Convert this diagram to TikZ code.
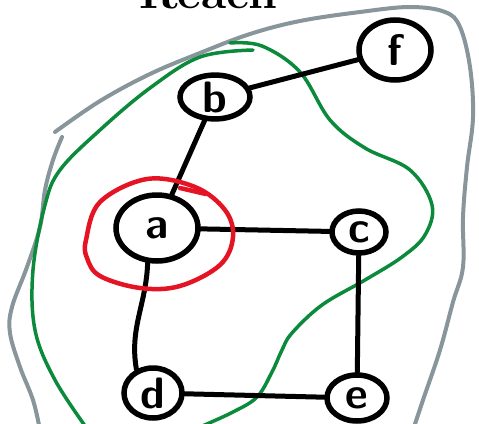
\documentclass[tikz,border=0pt]{standalone}
\usetikzlibrary{shapes.geometric}
\begin{document}
\begin{tikzpicture}[x=1pt,y=1pt,
  vertex/.style={ellipse, draw=black, line width=5.5pt, inner sep=0pt,
    font=\fontsize{44}{44}\selectfont\sffamily\bfseries},
  link/.style={draw=black, line width=5pt, line cap=round},
  outerblob/.style={color={rgb,255:red,136;green,149;blue,154}, line width=4pt, line cap=round, line join=round},
  greenblob/.style={color={rgb,255:red,10;green,138;blue,58}, line width=3.5pt, line cap=round, line join=round},
  redring/.style={color={rgb,255:red,228;green,20;blue,36}, line width=4.5pt, line cap=round, line join=round}]
\useasboundingbox (0,0) rectangle (479,-423);
\clip (0,0) rectangle (479,-423);

% heading, cut at the top edge
\node[anchor=base, font=\fontsize{46}{46}\selectfont\bfseries, inner sep=0pt] (title) at (208,-9) {Reach};

% outer grey region
\draw[outerblob] plot[smooth, tension=0.6] coordinates {
  (55,-132) (100,-101) (150,-74) (200,-53) (250,-34) (300,-21) (360,-12)
  (410,-7) (445,-12) (460,-27) (470,-67) (473,-117) (467,-167) (463,-217)
  (463,-267) (453,-302) (440,-350) (423,-400) (413,-430)};
\draw[outerblob] plot[smooth, tension=0.6] coordinates {
  (62,-137) (53,-160) (45,-190) (40,-227) (27,-267) (12,-307) (10,-333)
  (20,-367) (33,-400) (40,-430)};

% green region
\draw[greenblob] plot[smooth, tension=0.6] coordinates {
  (253,-50) (200,-57) (150,-88) (100,-130) (60,-170) (45,-205) (33,-270)
  (35,-330) (55,-380) (88,-430)};
\draw[greenblob] plot[smooth, tension=0.6] coordinates {
  (230,-43) (262,-46) (300,-72) (330,-120) (365,-148) (410,-170) (432,-205)
  (425,-235) (402,-257) (365,-280) (322,-305) (292,-333) (282,-350)
  (272,-372) (257,-397) (233,-412) (200,-427)};

% vertices
\node[vertex, minimum width=72pt, minimum height=60pt] (f) at (395,-50) {f};
\node[vertex, minimum width=70pt, minimum height=43pt] (b) at (215,-97) {b};
\node[vertex, minimum width=82pt, minimum height=66pt] (a) at (157,-228) {a};
\node[vertex, minimum width=54pt, minimum height=42pt] (c) at (359,-232) {c};
\node[vertex, minimum width=58pt, minimum height=50pt] (d) at (153,-393) {d};
\node[vertex, minimum width=60pt, minimum height=46pt] (e) at (357,-398) {e};

% edges
\draw[link] (b) -- (f);
\draw[link] (b) -- (a);
\draw[link] (a) -- (c);
\draw[link] (a.-105) to[out=-92, in=100] (d.125);
\draw[link] (c) -- (e);
\draw[link] (d) -- (e);

% red ring around a
\draw[redring] plot[smooth cycle, tension=0.6] coordinates {
  (86,-240) (100,-202) (147,-179) (195,-187) (225,-210) (233,-237)
  (220,-265) (180,-286) (140,-288) (100,-276) (87,-258)};
\draw[redring] (180,-188) -- (206,-194);
\end{tikzpicture}
\end{document}
